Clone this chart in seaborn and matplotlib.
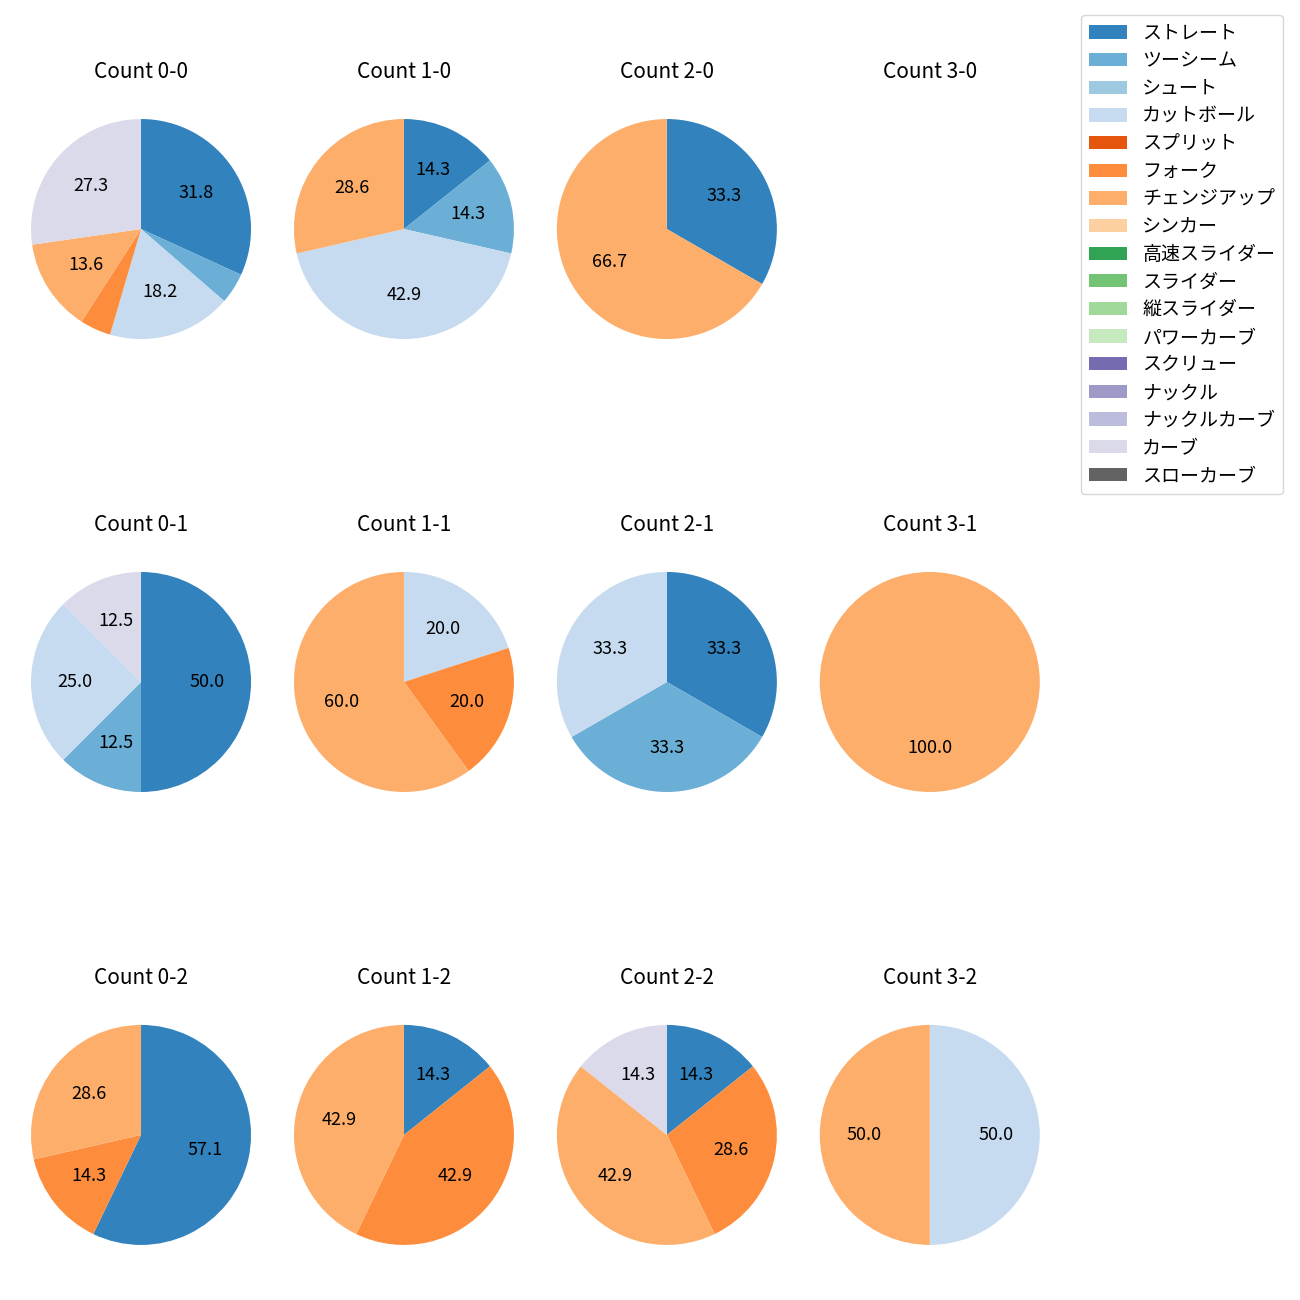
import matplotlib
matplotlib.use("Agg")
import matplotlib.pyplot as plt
import seaborn as sns
from matplotlib.patches import Patch

sns.set_theme(style="white")
plt.rcParams['font.family'] = ['Noto Sans CJK JP', 'DejaVu Sans']
plt.rcParams['text.color'] = 'black'

pitch_types = ["ストレート", "ツーシーム", "シュート", "カットボール", "スプリット", "フォーク",
               "チェンジアップ", "シンカー", "高速スライダー", "スライダー", "縦スライダー",
               "パワーカーブ", "スクリュー", "ナックル", "ナックルカーブ", "カーブ", "スローカーブ"]

counts = ["0-0", "1-0", "2-0", "3-0", "0-1", "1-1", "2-1", "3-1", "0-2", "1-2", "2-2", "3-2"]

# pitch counts per ball-strike count, in pitch_types order
c_0_0 = [7, 1, 0, 4, 0, 1, 3, 0, 0, 0, 0, 0, 0, 0, 0, 6, 0]
c_1_0 = [1, 1, 0, 3, 0, 0, 2, 0, 0, 0, 0, 0, 0, 0, 0, 0, 0]
c_2_0 = [1, 0, 0, 0, 0, 0, 2, 0, 0, 0, 0, 0, 0, 0, 0, 0, 0]
c_3_0 = [0] * 17
c_0_1 = [4, 1, 0, 2, 0, 0, 0, 0, 0, 0, 0, 0, 0, 0, 0, 1, 0]
c_1_1 = [0, 0, 0, 1, 0, 1, 3, 0, 0, 0, 0, 0, 0, 0, 0, 0, 0]
c_2_1 = [1, 1, 0, 1, 0, 0, 0, 0, 0, 0, 0, 0, 0, 0, 0, 0, 0]
c_3_1 = [0, 0, 0, 0, 0, 0, 1, 0, 0, 0, 0, 0, 0, 0, 0, 0, 0]
c_0_2 = [4, 0, 0, 0, 0, 1, 2, 0, 0, 0, 0, 0, 0, 0, 0, 0, 0]
c_1_2 = [1, 0, 0, 0, 0, 3, 3, 0, 0, 0, 0, 0, 0, 0, 0, 0, 0]
c_2_2 = [1, 0, 0, 0, 0, 2, 3, 0, 0, 0, 0, 0, 0, 0, 0, 1, 0]
c_3_2 = [0, 0, 0, 1, 0, 0, 1, 0, 0, 0, 0, 0, 0, 0, 0, 0, 0]

data = [c_0_0, c_1_0, c_2_0, c_3_0, c_0_1, c_1_1, c_2_1, c_3_1, c_0_2, c_1_2, c_2_2, c_3_2]

tab = sns.color_palette("tab20c", 20)
colors = dict(zip(pitch_types, tab[:17]))

fig, axes = plt.subplots(3, 4, figsize=(13, 13))
fig.subplots_adjust(left=0.0027, right=0.821, top=0.9296, bottom=0.0212,
                    wspace=-0.044, hspace=0.647)

for ax, cnt, vals in zip(axes.flat, counts, data):
    ax.set_title(f"Count {cnt}", fontsize=15, pad=10, color="black")
    labs = [p for p, v in zip(pitch_types, vals) if v > 0]
    vs = [v for v in vals if v > 0]
    if vs:
        ax.pie(vs, colors=[colors[l] for l in labs], startangle=90, counterclock=False,
               autopct=lambda p: f"{p:.1f}" if p >= 10 else "",
               textprops={"fontsize": 13, "color": "black"},
               wedgeprops={"linewidth": 0, "edgecolor": "none"})
    ax.set_xlim(-1.25, 1.25)
    ax.set_ylim(-1.25, 1.25)
    ax.set_aspect("equal")
    ax.axis("off")

handles = [Patch(facecolor=colors[p], edgecolor="none", label=p) for p in pitch_types]
fig.legend(handles=handles, loc="upper right", bbox_to_anchor=(0.9869, 0.9885),
           borderaxespad=0, fontsize=13.7, labelspacing=0.35)

fig.savefig("out.png", dpi=100)
